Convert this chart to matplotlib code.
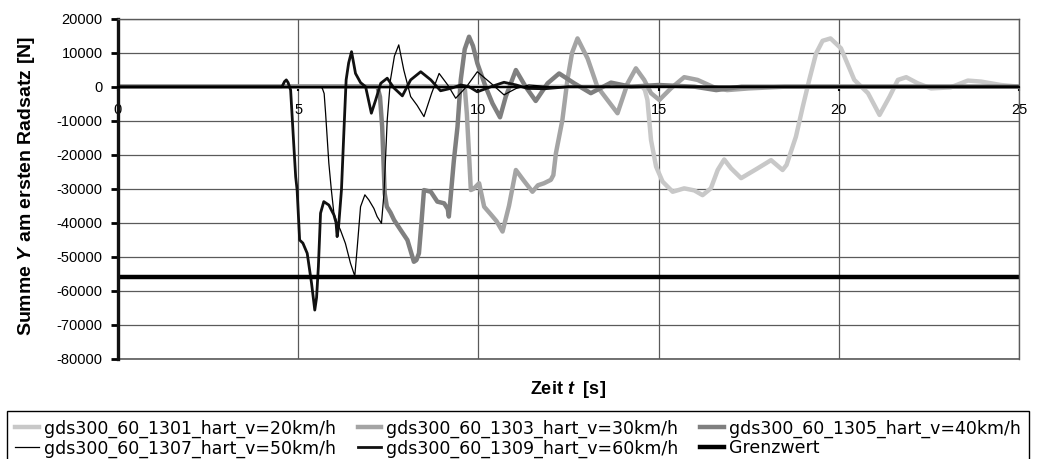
import matplotlib
matplotlib.use("Agg")
import matplotlib.pyplot as plt

plt.rcParams['font.family'] = ['Liberation Sans', 'DejaVu Sans']
plt.rcParams['axes.unicode_minus'] = False
plt.rcParams['mathtext.fontset'] = 'custom'
plt.rcParams['mathtext.rm'] = 'Liberation Sans'
plt.rcParams['mathtext.bf'] = 'Liberation Sans:bold'
plt.rcParams['mathtext.it'] = 'Liberation Sans:italic'
plt.rcParams['mathtext.bfit'] = 'Liberation Sans:bold:italic'

# --- data (time in s, force in N) ---
t_v20 = [0, 14.55, 14.62, 14.69, 14.79, 14.93, 15.11, 15.39, 15.71, 15.99, 16.22, 16.45, 16.64,
         16.82, 17.01, 17.29, 17.75, 18.12, 18.44, 18.55, 18.81, 19.0, 19.18, 19.37, 19.55, 19.77,
         20.06, 20.43, 20.81, 21.13, 21.41, 21.64, 21.87, 22.19, 22.56, 23.1, 23.58, 23.95, 24.5, 25]
f_v20 = [0, 0, -1000, -3900, -15700, -23500, -27900, -30900, -29900, -30500, -31900, -29900, -24500,
         -21400, -24000, -26900, -24000, -21600, -24500, -23000, -14700, -5900, 2000, 9800, 13500, 14200,
         11300, 2000, -1900, -8300, -2900, 2000, 2800, 1000, -500, -200, 1800, 1500, 500, 0]

t_v30 = [0, 9.62, 9.68, 9.74, 9.79, 9.87, 10.02, 10.16, 10.34, 10.5, 10.67, 10.85, 11.04, 11.25,
         11.5, 11.65, 11.82, 12.01, 12.08, 12.15, 12.33, 12.47, 12.6, 12.75, 13.03, 13.3, 13.58,
         13.86, 14.14, 14.37, 14.6, 14.79, 15.02, 15.34, 15.71, 16.08, 16.54, 16.9, 17.5, 18.5, 25]
f_v30 = [0, 0, -8000, -20000, -30400, -30000, -28400, -35300, -37500, -39500, -42600, -35000, -24500, -27500,
         -30900, -29000, -28400, -27400, -26000, -19600, -9800, 2000, 10000, 14200, 8300, 0, -3900,
         -7800, 1000, 5400, 2000, -1900, -3900, -500, 2800, 2000, -200, -1000, -500, 0, 0]

t_v40 = [0, 7.20, 7.27, 7.33, 7.40, 7.46, 7.56, 7.66, 7.84, 8.03, 8.21, 8.28, 8.35, 8.42, 8.49,
         8.68, 8.86, 9.05, 9.15, 9.18, 9.23, 9.32, 9.42, 9.51, 9.62, 9.74, 9.85, 9.97, 10.2, 10.39,
         10.6, 10.76, 11.04, 11.31, 11.59, 11.92, 12.24, 12.66, 13.12, 13.68, 14.23, 15.0, 16.0,
         16.6, 17.3, 25]
f_v40 = [0, 0, -3000, -11800, -31400, -35300, -37000, -39200, -42100, -45100, -51500, -51000, -49000, -40000, -30400,
         -30900, -33800, -34300, -36000, -38200, -32400, -21600, -11800, 2000, 11000, 14700, 12000, 6900, 0, -4900,
         -9000, -2900, 4900, 0, -4200, 1000, 3900, 1000, -1900, 1200, 0, 500, 0,
         -1000, 0, 0]

t_v50 = [0, 5.62, 5.67, 5.72, 5.76, 5.85, 5.92, 5.99, 6.08, 6.17, 6.31, 6.45, 6.57, 6.64, 6.73,
         6.85, 6.96, 7.10, 7.19, 7.31, 7.38, 7.47, 7.56, 7.67, 7.79, 7.93, 8.12, 8.30, 8.49, 8.70,
         8.91, 9.15, 9.37, 9.67, 9.97, 10.35, 10.71, 11.05, 11.4, 12, 13, 25]
f_v50 = [0, 0, -500, -2000, -7800, -22500, -30400, -37200, -40000, -42100, -46100, -51900, -55700, -47000, -35300,
         -31800, -33300, -35800, -38200, -40200, -31400, -9800, 2000, 9000, 12300, 4900, -2900, -5500, -8800, -2000,
         3900, 500, -3400, 0, 4400, 1000, -2400, -500, 500, 0, 0, 0]

t_v60 = [0, 4.55, 4.62, 4.67, 4.72, 4.79, 4.88, 4.93, 4.97, 5.04, 5.13, 5.25, 5.37, 5.46, 5.51,
         5.56, 5.62, 5.71, 5.85, 5.99, 6.05, 6.08, 6.12, 6.20, 6.27, 6.33, 6.40, 6.48, 6.59, 6.73,
         6.87, 7.03, 7.15, 7.29, 7.47, 7.65, 7.89, 8.12, 8.40, 8.68, 8.95, 9.23, 9.51, 9.74, 9.97,
         10.35, 10.71, 11.05, 11.36, 11.84, 12.5, 13.5, 25]
f_v60 = [0, 0, 1500, 2000, 1200, -1000, -17600, -26500, -30400, -45100, -46000, -49000, -57800, -65700, -62000,
         -52900, -37200, -33800, -34800, -37700, -40000, -44100, -41200, -30400, -12700, 2000, 7000, 10300, 3900, 1200,
         0, -7800, -3900, 1000, 2500, -300, -2700, 2000, 4400, 2000, -1200, -500, 500, 0, -1500,
         0, 1300, 500, -500, -600, 0, 0, 0]

grenz_t = [0, 25]
grenz_f = [-56000, -56000]

labels = ['gds300_60_1301_hart_v=20km/h', 'gds300_60_1303_hart_v=30km/h',
          'gds300_60_1305_hart_v=40km/h', 'gds300_60_1307_hart_v=50km/h',
          'gds300_60_1309_hart_v=60km/h', 'Grenzwert']

fig = plt.figure(figsize=(10.37, 4.59), dpi=100)
ax = fig.add_axes([118 / 1037, 1 - 358.7 / 459, (1019 - 118) / 1037, (358.7 - 18.7) / 459])

h = []
h += ax.plot(t_v20, f_v20, color='#c8c8c8', lw=3.2)
h += ax.plot(t_v30, f_v30, color='#a4a4a4', lw=3.2)
h += ax.plot(t_v40, f_v40, color='#7f7f7f', lw=3.2)
h += ax.plot(t_v50, f_v50, color='black', lw=0.9)
h += ax.plot(t_v60, f_v60, color='#111111', lw=2.0)
h += ax.plot(grenz_t, grenz_f, color='black', lw=3.2)

ax.set_xlim(0, 25)
ax.set_ylim(-80000, 20000)
ax.set_xticks(range(0, 26, 5))
ax.set_yticks(range(-80000, 20001, 10000))
ax.grid(True, color='#5a5a5a', lw=0.9)
ax.set_axisbelow(True)
ax.axhline(-80000, color='#5a5a5a', lw=1.2, clip_on=False)

ax.spines['bottom'].set_position(('data', 0))
ax.spines['bottom'].set_color('black')
ax.spines['bottom'].set_linewidth(1.5)
ax.spines['left'].set_linewidth(2.4)
ax.spines['left'].set_color('#111111')
for s in ['top', 'right']:
    ax.spines[s].set_color('#5a5a5a')
    ax.spines[s].set_linewidth(1.0)

ax.tick_params(axis='y', direction='out', length=5, width=2, pad=6, labelsize=10.5)
ax.tick_params(axis='x', direction='out', length=3, width=1.5, pad=9, labelsize=10.5)

fig.text(568 / 1037, 1 - 389 / 459, r'Zeit $\bfit{t}$  [s]', ha='center', va='center',
         fontsize=13, fontweight='bold')
fig.text(27 / 1037, 1 - 186 / 459, r'Summe $\bfit{Y}$ am ersten Radsatz [N]', ha='center',
         va='center', rotation=90, fontsize=14, fontweight='bold')

# excel legend runs row by row, matplotlib fills columns first
order = [0, 3, 1, 4, 2, 5]
fig.legend([h[i] for i in order], [labels[i] for i in order], loc='upper left',
           bbox_to_anchor=(7 / 1037, 0.002, (1029 - 7) / 1037, 1 - 412 / 459), mode='expand',
           ncol=3, fancybox=False, edgecolor='black', framealpha=1, borderaxespad=0,
           prop={'family': 'DejaVu Sans', 'size': 12.5}, handlelength=1.35,
           handletextpad=0.3, labelspacing=0.1, borderpad=0.48, columnspacing=0.3)

fig.savefig('out.png', dpi=100)
plt.close(fig)
